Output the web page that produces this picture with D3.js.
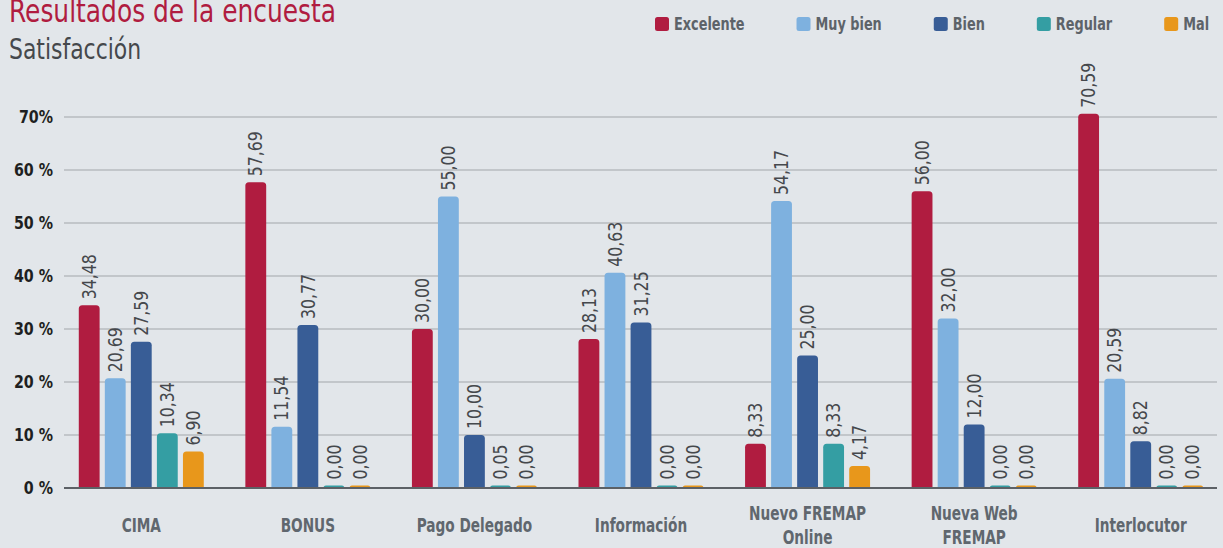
<!DOCTYPE html>
<html>
<head>
<meta charset="utf-8">
<script src="https://cdnjs.cloudflare.com/ajax/libs/d3/7.8.5/d3.min.js"></script>
<style>
  html, body { margin: 0; padding: 0; background: #e2e6ea; }
  svg { display: block; }
</style>
</head>
<body>
<div id="chart"></div>
<script>
// data
var categories = ["CIMA", "BONUS", "Pago Delegado", "Información", "Nuevo FREMAP Online", "Nueva Web FREMAP", "Interlocutor"];
var categoryLines = [["CIMA"], ["BONUS"], ["Pago Delegado"], ["Información"], ["Nuevo FREMAP", "Online"], ["Nueva Web", "FREMAP"], ["Interlocutor"]];
var seriesNames = ["Excelente", "Muy bien", "Bien", "Regular", "Mal"];
var excelente = [34.48, 57.69, 30.00, 28.13, 8.33, 56.00, 70.59];
var muyBien   = [20.69, 11.54, 55.00, 40.63, 54.17, 32.00, 20.59];
var bien      = [27.59, 30.77, 10.00, 31.25, 25.00, 12.00, 8.82];
var regular   = [10.34, 0.00, 0.05, 0.00, 8.33, 0.00, 0.00];
var mal       = [6.90, 0.00, 0.00, 0.00, 4.17, 0.00, 0.00];
var yTicks = [0, 10, 20, 30, 40, 50, 60, 70];
var yTickLabels = ["0 %", "10 %", "20 %", "30 %", "40 %", "50 %", "60 %", "70%"];

var seriesValues = [excelente, muyBien, bien, regular, mal];
var colors = ["#b01c40", "#7eb1df", "#385d96", "#349ea3", "#e8971b"];

var W = 1223, H = 548;
var narrow = "'DejaVu Sans Condensed', 'DejaVu Sans', sans-serif";

// condensed look: shrink glyphs horizontally
function squeeze(sel, k) {
    sel.each(function() {
        var w = this.getComputedTextLength();
        d3.select(this).attr("textLength", w * k).attr("lengthAdjust", "spacingAndGlyphs");
    });
}

var svg = d3.select("#chart").append("svg")
    .attr("width", W)
    .attr("height", H);

// scales
var x = d3.scaleBand()
    .domain(categories)
    .range([58, 1224]);

var xBar = d3.scaleBand()
    .domain(seriesNames)
    .range([-62.5, 62.5])
    .paddingInner(0.2);

var y = d3.scaleLinear()
    .domain([0, 70])
    .range([488, 117]);

var color = d3.scaleOrdinal().domain(seriesNames).range(colors);

// title (cut at the top edge, as in the original)
svg.append("text")
    .attr("x", 9)
    .attr("y", 22)
    .attr("font-family", narrow)
    .attr("font-size", "32px")
    .attr("fill", "#b01c40")
    .text("Resultados de la encuesta")
    .call(squeeze, 0.865);

svg.append("text")
    .attr("x", 9)
    .attr("y", 59)
    .attr("font-family", narrow)
    .attr("font-size", "28px")
    .attr("fill", "#45484c")
    .text("Satisfacción")
    .call(squeeze, 0.87);

// legend
var legend = svg.append("g").attr("class", "legend");
var lx = 655;
seriesNames.forEach(function(name) {
    var g = legend.append("g").attr("transform", "translate(" + lx + ",0)");
    g.append("rect")
        .attr("x", 0).attr("y", 17)
        .attr("width", 14).attr("height", 14)
        .attr("rx", 2.5)
        .attr("fill", color(name));
    var t = g.append("text")
        .attr("x", 19).attr("y", 30)
        .attr("font-family", narrow)
        .attr("font-weight", "bold")
        .attr("font-size", "17px")
        .attr("fill", "#5d6369")
        .text(name);
    var w = t.node().getComputedTextLength() * 0.84;
    t.attr("textLength", w).attr("lengthAdjust", "spacingAndGlyphs");
    lx += 19 + w + 52;
});

// grid + y labels
var yAxis = d3.axisLeft(y)
    .tickValues(yTicks)
    .tickFormat(function(d, i) { return yTickLabels[i]; })
    .tickSize(0);

var yG = svg.append("g")
    .attr("transform", "translate(64,0)")
    .call(yAxis);
yG.select(".domain").remove();
yG.selectAll(".tick text")
    .attr("x", -11)
    .attr("dy", "0.3em")
    .attr("font-family", narrow)
    .attr("font-weight", "bold")
    .attr("font-size", "18px")
    .attr("fill", "#1e1f21")
    .call(squeeze, 0.88);

svg.append("g")
    .selectAll("line")
    .data(yTicks.filter(function(d) { return d > 0; }))
    .enter().append("line")
    .attr("x1", 64).attr("x2", 1217)
    .attr("y1", function(d) { return y(d); })
    .attr("y2", function(d) { return y(d); })
    .attr("stroke", "#b7bbbf")
    .attr("stroke-width", 1.5);

// bars
function barPath(x0, w, top, bottom, r) {
    var h = bottom - top;
    r = Math.min(r, h, w / 2);
    return "M" + x0 + "," + bottom +
        "V" + (top + r) +
        "Q" + x0 + "," + top + " " + (x0 + r) + "," + top +
        "H" + (x0 + w - r) +
        "Q" + (x0 + w) + "," + top + " " + (x0 + w) + "," + (top + r) +
        "V" + bottom + "Z";
}

var rows = categories.map(function(c, i) {
    return {
        cat: c,
        items: seriesNames.map(function(s, j) { return { key: s, value: seriesValues[j][i] }; })
    };
});

var groups = svg.append("g")
    .selectAll("g")
    .data(rows)
    .enter().append("g")
    .attr("transform", function(d) { return "translate(" + (x(d.cat) + x.bandwidth() / 2) + ",0)"; });

groups.selectAll("path")
    .data(function(d) { return d.items; })
    .enter().append("path")
    .attr("d", function(d) {
        var top = Math.min(y(d.value), y(0) - 2.5);
        return barPath(xBar(d.key), xBar.bandwidth(), top, y(0), 3.5);
    })
    .attr("fill", function(d) { return color(d.key); });

groups.selectAll("text")
    .data(function(d) { return d.items; })
    .enter().append("text")
    .attr("transform", function(d) {
        var top = Math.min(y(d.value), y(0) - 2.5);
        return "translate(" + (xBar(d.key) + xBar.bandwidth() / 2) + "," + (top - 6) + ") rotate(-90)";
    })
    .attr("dy", "0.35em")
    .attr("font-family", narrow)
    .attr("font-size", "19px")
    .attr("fill", "#45484c")
    .text(function(d) { return d.value.toFixed(2).replace(".", ","); })
    .call(squeeze, 0.92);

// baseline
svg.append("line")
    .attr("x1", 64).attr("x2", 1217)
    .attr("y1", y(0)).attr("y2", y(0))
    .attr("stroke", "#5c6166")
    .attr("stroke-width", 2);

// x labels
var xAxis = d3.axisBottom(x).tickSize(0).tickFormat("");
var xG = svg.append("g")
    .attr("transform", "translate(0," + y(0) + ")")
    .call(xAxis);
xG.select(".domain").remove();
xG.selectAll(".tick").each(function(d, i) {
    var lines = categoryLines[i];
    var t = d3.select(this).select("text")
        .attr("y", 0)
        .attr("dy", null)
        .attr("font-family", narrow)
        .attr("font-weight", "bold")
        .attr("font-size", "19px")
        .attr("fill", "#60676e");
    lines.forEach(function(line, k) {
        t.append("tspan")
            .attr("x", 0)
            .attr("y", 44 - (lines.length - 1) * 12 + k * 24)
            .text(line)
            .call(squeeze, 0.8);
    });
});
</script>
</body>
</html>
